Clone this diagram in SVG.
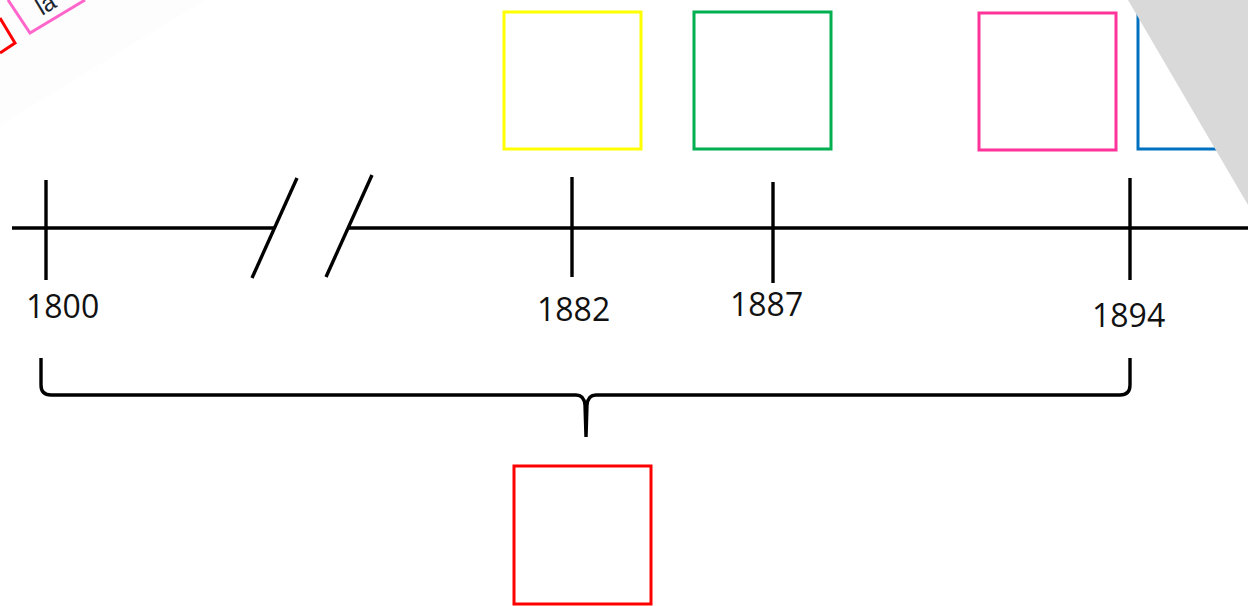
<svg xmlns="http://www.w3.org/2000/svg" width="1248" height="606" viewBox="0 0 1248 606">
<style>
.box{fill:none;stroke-width:3}
.ln{stroke:#000;stroke-width:3.4;fill:none;stroke-linecap:butt}
.lbl{font-family:"Open Sans","Liberation Sans",sans-serif;font-size:32px;fill:#111}
</style>
<rect width="1248" height="606" fill="#fff"/>
<g id="corner-fragment">
<polygon points="0,0 205,0 0,125" fill="#fdfdfd"/>
<polyline points="0,53 15,43 0,18" fill="none" stroke="#ff0000" stroke-width="3"/>
<polyline points="8,0 30,33 85,0" fill="none" stroke="#ff66cc" stroke-width="3"/>
<text x="42" y="16" transform="rotate(-31 42 16)" font-family="Liberation Sans, sans-serif" font-size="24" fill="#1a2530">la</text>
</g>
<g id="connectors">
<line class="ln" x1="12" y1="228" x2="274" y2="228"/>
<line class="ln" x1="349" y1="228" x2="1248" y2="228"/>
<line class="ln" x1="252" y1="278" x2="297" y2="178"/>
<line class="ln" x1="326" y1="277" x2="372" y2="175"/>
<line class="ln" x1="46" y1="180" x2="46" y2="280"/>
<line class="ln" x1="572" y1="177" x2="572" y2="277"/>
<line class="ln" x1="773" y1="182" x2="773" y2="283"/>
<line class="ln" x1="1130" y1="178" x2="1130" y2="280"/>
<path class="ln" d="M41,358 L41,385 Q41,395 51,395 L576,395 Q584,395 585,405 L586,437 L587,405 Q588,395 596,395 L1120,395 Q1130,395 1130,385 L1130,358"/>
</g>
<g id="label-1800"><text class="lbl" x="26" y="318">1800</text></g>
<g id="label-1882"><text class="lbl" x="537" y="321">1882</text></g>
<g id="label-1887"><text class="lbl" x="730" y="316">1887</text></g>
<g id="label-1894"><text class="lbl" x="1092" y="327">1894</text></g>
<g id="box-yellow"><rect class="box" x="504" y="12" width="137" height="137" stroke="#ffff00"/></g>
<g id="box-green"><rect class="box" x="694" y="12" width="137" height="137" stroke="#00b050"/></g>
<g id="box-pink"><rect class="box" x="979" y="13" width="137" height="137" stroke="#ff3399"/></g>
<g id="box-blue"><rect class="box" x="1138" y="13" width="137" height="136" stroke="#0070c0"/></g>
<g id="box-red"><rect class="box" x="514" y="466" width="137" height="138" stroke="#ff0000"/></g>
<polygon id="gray-overlay" points="1128,0 1248,0 1248,205" fill="#d9d9d9"/>
</svg>
